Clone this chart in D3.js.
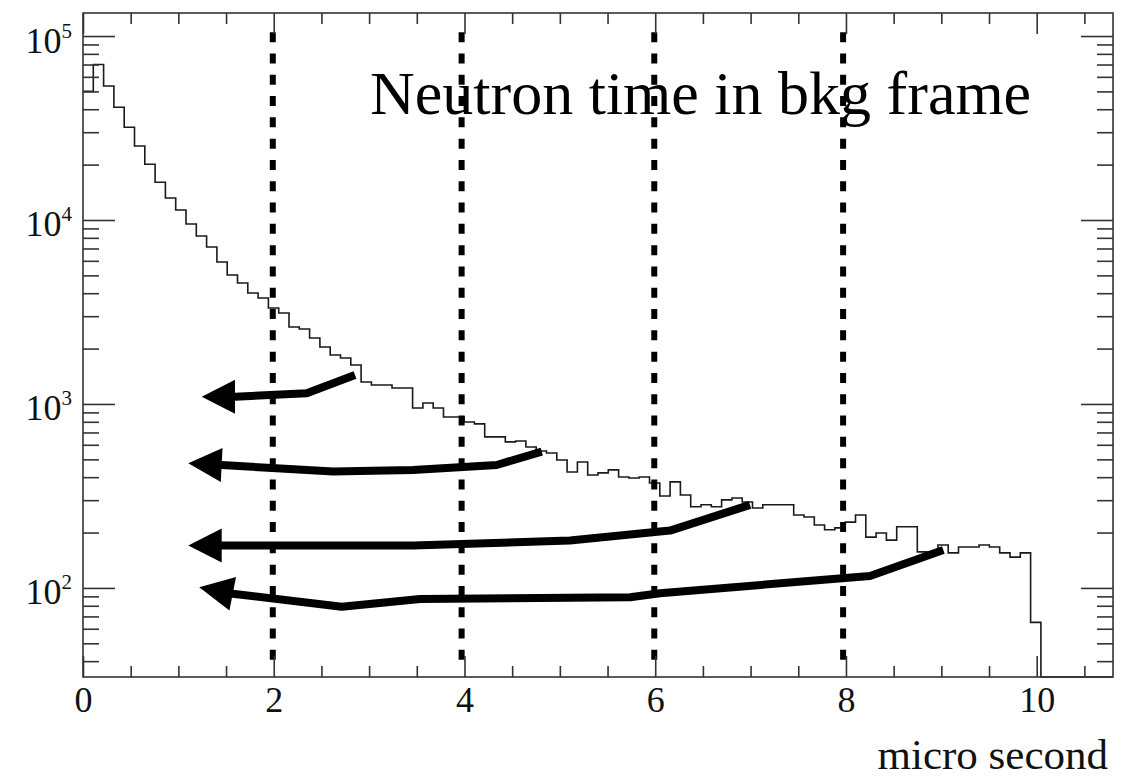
<!DOCTYPE html>
<html><head><meta charset="utf-8">
<script src="https://cdn.jsdelivr.net/npm/d3@7"></script>
<style>body{margin:0;background:#fff}svg{display:block}</style>
</head><body>
<svg id="c" width="1140" height="777"></svg>
<script>
// ---- data ----
const histRange = [0, 10.8];
const nBins = 100;
const counts = [
  50000, 70000, 53500, 41000, 31900, 25250, 20080, 16030, 13170, 11330,
  9510, 8180, 7135, 5910, 5025, 4546, 4012, 3768, 3324, 3123,
  2621, 2556, 2284, 2040, 1846, 1778, 1629, 1317, 1269, 1269,
  1222, 1222, 951, 1012, 951, 850, 850, 798, 779, 662,
  662, 622, 629, 584, 555, 541, 496, 427, 484, 411,
  422, 438, 401, 396, 401, 372, 316, 377, 320, 276,
  283, 276, 301, 308, 293, 272, 283, 283, 283, 249,
  243, 220, 207, 212, 228, 249, 189, 199, 182, 215,
  215, 157, 157, 171, 155, 167, 167, 171, 167, 155,
  147, 155, 65, 0, 0, 0, 0, 0, 0, 0
];
const xDomain = [0, 10.8];
const yDomain = [32.8, 1.334e5];
const xMajorTicks = [0, 2, 4, 6, 8, 10];
const xMinorStep = 0.5;
const yMajorTicks = [1e2, 1e3, 1e4, 1e5];
const yTickExponents = ["2", "3", "4", "5"];
const cutTimes = [1.99, 3.97, 5.99, 7.97];
const cutExtent = [40.6, 1.05e5];
// arrows: first point is the arrow tip, second the base of the head, then the shaft
const arrow1 = [[1.245,1096],[1.594,1096],[2.346,1143],[2.852,1438]];
const arrow2 = [[1.104,476],[1.454,466],[2.625,429],[3.46,437],[4.338,466],[4.81,551]];
const arrow3 = [[1.104,170],[1.454,170],[3.463,170],[5.106,181],[6.155,205],[6.994,283]];
const arrow4 = [[1.219,101],[1.57,93],[2.713,79.1],[3.534,87.1],[5.736,89],[6.05,93.6],[8.252,116.2],[9.021,160.9]];
const arrows = [arrow1, arrow2, arrow3, arrow4];
const titleText = "Neutron time in bkg frame";
const xTitleText = "micro second";

// ---- drawing ----
const W = 1140, H = 777;
const L = 83, R = 1113, T = 13, B = 677;
const font = "'Liberation Serif','Times New Roman',Times,serif";
const ink = "#111", tickColor = "#333";

const svg = d3.select("#c");
svg.append("rect").attr("width", W).attr("height", H).attr("fill", "#fff");

const x = d3.scaleLinear().domain(xDomain).range([L, R]);
const y = d3.scaleLog().domain(yDomain).range([B, T]);

// histogram
const edges = d3.range(nBins + 1).map(i => histRange[0] + i * (histRange[1] - histRange[0]) / nBins);
const pts = counts.map((c, i) => [edges[i], c]);
pts.push([edges[nBins], counts[nBins - 1]]);
const clampV = v => Math.min(Math.max(v, yDomain[0]), yDomain[1]);
const histLine = d3.line().x(d => x(d[0])).y(d => y(clampV(d[1]))).curve(d3.curveStepAfter);
svg.append("path").attr("d", histLine(pts)).attr("fill", "none")
  .attr("stroke", "#1a1a1a").attr("stroke-width", 1.6);

// dashed cut lines
svg.append("g").selectAll("line").data(cutTimes).join("line")
  .attr("x1", d => x(d)).attr("x2", d => x(d))
  .attr("y1", y(cutExtent[1])).attr("y2", y(cutExtent[0]))
  .attr("stroke", "#000").attr("stroke-width", 6).attr("stroke-dasharray", "10 11.3");

// arrows
arrows.forEach(a => {
  const p = a.map(([vx, vy]) => [x(vx), y(vy)]);
  const tip = p[0], base = p[1];
  const dx = tip[0] - base[0], dy = tip[1] - base[1], len = Math.hypot(dx, dy);
  const ux = dx / len, uy = dy / len, hw = 17;
  const shaft = [[base[0] + ux * 3, base[1] + uy * 3]].concat(p.slice(1));
  svg.append("path").attr("d", d3.line()(shaft)).attr("fill", "none")
    .attr("stroke", "#000").attr("stroke-width", 8).attr("stroke-linejoin", "round");
  const c1 = [base[0] - uy * hw, base[1] + ux * hw];
  const c2 = [base[0] + uy * hw, base[1] - ux * hw];
  svg.append("path").attr("d", d3.line()([tip, c1, c2]) + "Z").attr("fill", "#000");
});

// axes
function styleAxis(g) {
  g.select(".domain").remove();
  g.selectAll(".tick line").attr("stroke", tickColor).attr("stroke-width", 1.6);
  g.attr("font-family", font).attr("fill", ink);
}
const xMinor = d3.range(xDomain[0], xDomain[1] + 1e-9, xMinorStep)
  .filter(v => !xMajorTicks.some(m => Math.abs(m - v) < 1e-9));
const yMinor = [];
[10, 100, 1000, 10000, 100000].forEach(dec => {
  for (let k = 2; k <= 9; k++) { const v = dec * k; if (v >= yDomain[0] && v <= yDomain[1]) yMinor.push(v); }
});

// bottom
svg.append("g").attr("transform", `translate(0,${B})`)
  .call(d3.axisBottom(x).tickValues(xMajorTicks).tickSize(-21).tickPadding(9.5).tickFormat(d3.format("d")))
  .call(styleAxis).attr("font-size", 36)
  .selectAll("text").attr("fill", ink);
svg.append("g").attr("transform", `translate(0,${B})`)
  .call(d3.axisBottom(x).tickValues(xMinor).tickSize(-11).tickFormat(() => ""))
  .call(styleAxis);
// top
svg.append("g").attr("transform", `translate(0,${T})`)
  .call(d3.axisTop(x).tickValues(xMajorTicks).tickSize(-21).tickFormat(() => ""))
  .call(styleAxis);
svg.append("g").attr("transform", `translate(0,${T})`)
  .call(d3.axisTop(x).tickValues(xMinor).tickSize(-11).tickFormat(() => ""))
  .call(styleAxis);
// left
const gl = svg.append("g").attr("transform", `translate(${L},0)`)
  .call(d3.axisLeft(y).tickValues(yMajorTicks).tickSize(-32).tickPadding(11).tickFormat(() => ""))
  .call(styleAxis).attr("font-size", 36);
gl.selectAll(".tick text").each(function(d, i) {
  const t = d3.select(this).attr("dy", null).attr("y", 16).attr("fill", ink);
  t.text(null);
  t.append("tspan").text("10");
  t.append("tspan").attr("dy", -15).attr("font-size", 21).text(yTickExponents[i]);
});
svg.append("g").attr("transform", `translate(${L},0)`)
  .call(d3.axisLeft(y).tickValues(yMinor).tickSize(-16).tickFormat(() => ""))
  .call(styleAxis);
// right
svg.append("g").attr("transform", `translate(${R},0)`)
  .call(d3.axisRight(y).tickValues(yMajorTicks).tickSize(-32).tickFormat(() => ""))
  .call(styleAxis);
svg.append("g").attr("transform", `translate(${R},0)`)
  .call(d3.axisRight(y).tickValues(yMinor).tickSize(-16).tickFormat(() => ""))
  .call(styleAxis);

// frame
svg.append("rect").attr("x", L).attr("y", T).attr("width", R - L).attr("height", B - T)
  .attr("fill", "none").attr("stroke", tickColor).attr("stroke-width", 1.6);

// texts
svg.append("text").attr("x", 370).attr("y", 114).attr("font-family", font)
  .attr("font-size", 62).attr("fill", "#000").text(titleText);
svg.append("text").attr("x", 1108).attr("y", 769).attr("text-anchor", "end")
  .attr("font-family", font).attr("font-size", 43).attr("fill", ink).text(xTitleText);
</script>
</body></html>
